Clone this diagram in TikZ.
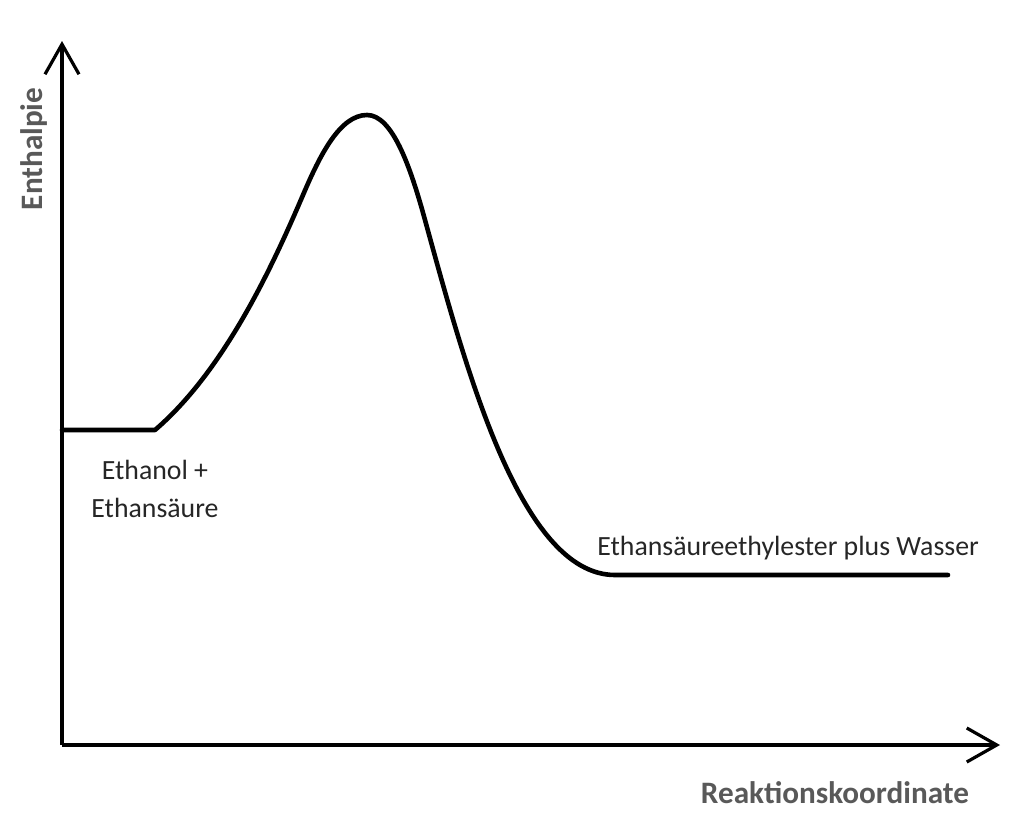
\documentclass[tikz,border=0pt]{standalone}
\usepackage{fontspec}
\setmainfont{Carlito}
\usetikzlibrary{arrows.meta}
\definecolor{labelgrey}{HTML}{595959}
\definecolor{textdark}{HTML}{262626}
\tikzset{
  axis/.style={line width=1.6pt, -{Straight Barb[length=15pt,width=17pt,line width=1.6pt]}},
  curve/.style={line width=2.3pt, line join=round, line cap=round},
  axislabel/.style={font=\fontsize{15.6}{18}\selectfont\bfseries, text=labelgrey, inner sep=0pt},
  species/.style={font=\fontsize{13.9}{19}\selectfont, text=textdark, inner sep=0pt, align=center}
}
\begin{document}
\begin{tikzpicture}[x=0.5pt,y=-0.5pt]
\useasboundingbox (0,0) rectangle (1024,830);
\coordinate (O) at (62,745);
\coordinate (ytip) at (62,41);
\coordinate (xtip) at (1000,745);
\draw[axis] (O) -- (ytip);
\draw[axis] (O) -- (xtip);
\node[axislabel, rotate=90] (ylab) at (34,149) {Enthalpie};
\node[axislabel] (xlab) at (835,793) {Reaktionskoordinate};
% energy profile
\coordinate (r0) at (62,430);
\coordinate (r1) at (155,430);
\coordinate (ts) at (367,115);
\coordinate (p0) at (615,575);
\coordinate (p1) at (948,575);
\draw[curve] (r0) -- (r1)
  .. controls (225,370) and (273,265) .. (303,195)
  .. controls (320,155) and (340,115) .. (ts)
  .. controls (392,115) and (410,165) .. (425,220)
  .. controls (465,365) and (520,575) .. (p0)
  -- (p1);
\node[species] (react) at (155,489) {Ethanol +\\Ethansäure};
\node[species, anchor=base west] (prod) at (597,555) {Ethansäureethylester plus Wasser};
\end{tikzpicture}
\end{document}
